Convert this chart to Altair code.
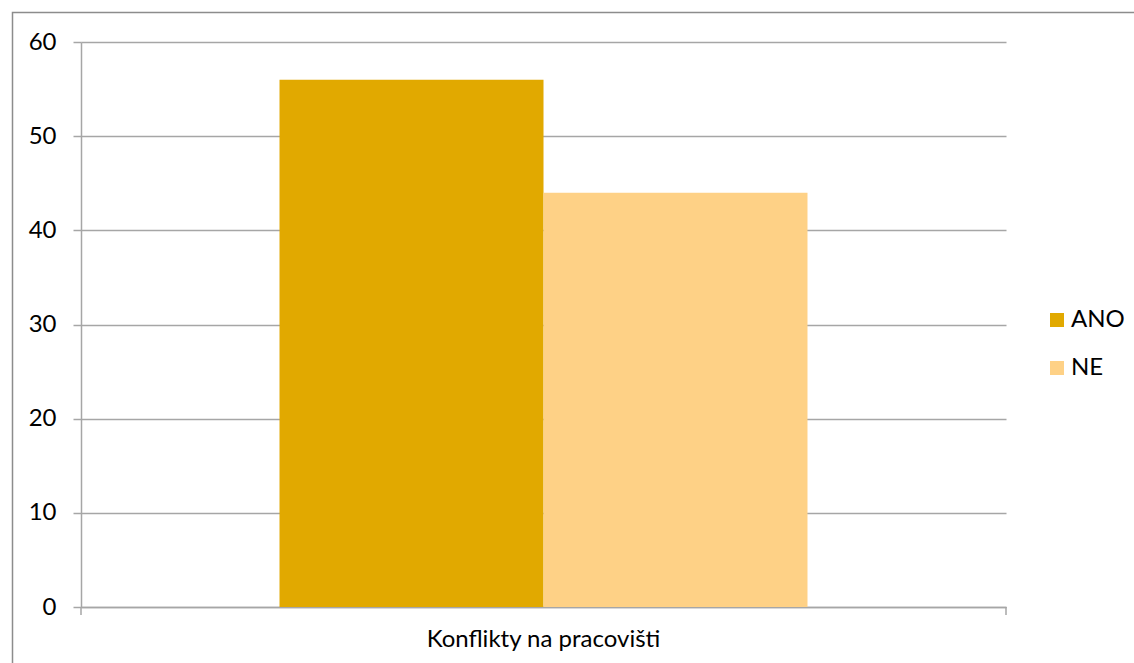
import altair as alt
import pandas as pd

# Survey answers: share of respondents reporting workplace conflicts
category = ["Konflikty na pracovišti", "Konflikty na pracovišti"]
series = ["ANO", "NE"]
values = [56, 44]
colors = ["#E1A900", "#FED186"]

df = pd.DataFrame({"cat": category, "serie": series, "hodnota": values})

W, H = 925, 565
FONT = "Lato"
FS = 24
GRID = "#A6A6A6"

bars = alt.Chart(df).mark_bar(size=264).encode(
    x=alt.X(
        "cat:N",
        title=None,
        scale=alt.Scale(paddingInner=0, paddingOuter=0.376),
        axis=alt.Axis(
            labelAngle=0,
            ticks=False,
            labelPadding=20,
            labelFontSize=FS,
            labelFont=FONT,
            labelLimit=600,
            labelColor="#000000",
            domainColor=GRID,
            domainWidth=1.5,
        ),
    ),
    xOffset=alt.XOffset("serie:N", sort=series, scale=alt.Scale(paddingInner=0, paddingOuter=0)),
    y=alt.Y(
        "hodnota:Q",
        title=None,
        scale=alt.Scale(domain=[0, 60], nice=False),
        axis=alt.Axis(
            values=[0, 10, 20, 30, 40, 50, 60],
            tickSize=8,
            tickColor=GRID,
            tickWidth=1.5,
            labelPadding=17,
            labelFontSize=FS,
            labelFont=FONT,
            labelColor="#000000",
            domainColor=GRID,
            domainWidth=1.5,
            gridColor=GRID,
            gridWidth=1.5,
        ),
    ),
    color=alt.Color(
        "serie:N",
        sort=series,
        scale=alt.Scale(domain=series, range=colors),
        legend=alt.Legend(
            title=None,
            orient="none",
            legendX=964,
            legendY=266,
            symbolType="square",
            symbolSize=196,
            symbolStrokeWidth=0,
            labelFontSize=FS,
            labelFont=FONT,
            labelColor="#000000",
            rowPadding=24,
            labelOffset=2,
        ),
    ),
)

one = pd.DataFrame({"k": [0]})

# End ticks on the category axis
end_ticks = alt.Chart(one).mark_rule(color=GRID, strokeWidth=1.5).encode(
    x=alt.value(0), y=alt.value(H), y2=alt.value(H + 8)
) + alt.Chart(one).mark_rule(color=GRID, strokeWidth=1.5).encode(
    x=alt.value(W), y=alt.value(H), y2=alt.value(H + 8)
)

# Outer frame around the chart
frame = alt.Chart(one).mark_rect(filled=False, stroke="#8C8C8C", strokeWidth=1.5, clip=False).encode(
    x=alt.value(-68.5), x2=alt.value(1134 - 81 + 20),
    y=alt.value(-29.5), y2=alt.value(663 - 42 + 20),
)

chart = alt.layer(frame, bars, end_ticks).properties(
    width=W,
    height=H,
    autosize=alt.AutoSizeParams(type="none"),
    padding={"left": 81, "top": 42, "right": 128, "bottom": 56},
    background="#FFFFFF",
).configure_view(stroke=None)

chart.save("out.html", embed_options={"renderer": "svg", "actions": False})
